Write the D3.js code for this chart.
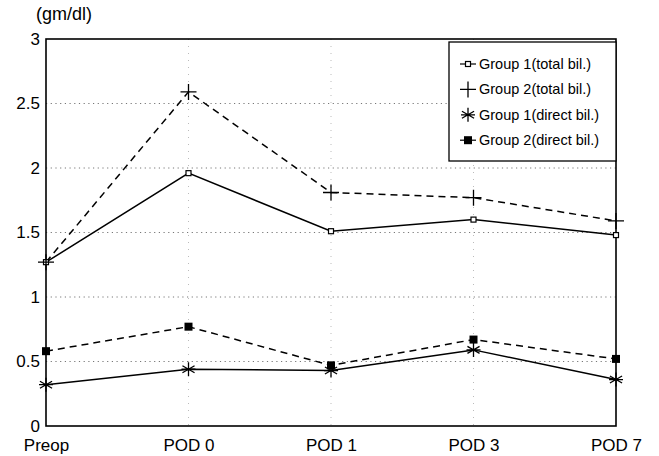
<!DOCTYPE html>
<html>
<head>
<meta charset="utf-8">
<script src="https://cdn.jsdelivr.net/npm/d3@7"></script>
<style>
  html, body { margin: 0; padding: 0; background: #fff; }
  svg { display: block; font-family: "Liberation Sans", Arial, sans-serif; }
</style>
</head>
<body>
<svg id="chart" width="659" height="456"></svg>
<script>
const categories = ["Preop", "POD 0", "POD 1", "POD 3", "POD 7"];
const g1Total  = [1.27, 1.96, 1.51, 1.60, 1.48];
const g2Total  = [1.27, 2.59, 1.81, 1.77, 1.59];
const g1Direct = [0.32, 0.44, 0.43, 0.59, 0.36];
const g2Direct = [0.58, 0.77, 0.47, 0.67, 0.52];
const yTicks = [0, 0.5, 1, 1.5, 2, 2.5, 3];
const yTickLabels = ["0", "0.5", "1", "1.5", "2", "2.5", "3"];
const unitLabel = "(gm/dl)";
const seriesNames = ["Group 1(total bil.)", "Group 2(total bil.)", "Group 1(direct bil.)", "Group 2(direct bil.)"];

const series = [
  { name: seriesNames[0], values: g1Total,  dash: null,  marker: "openSquare" },
  { name: seriesNames[1], values: g2Total,  dash: "7,5", marker: "plus" },
  { name: seriesNames[2], values: g1Direct, dash: null,  marker: "asterisk" },
  { name: seriesNames[3], values: g2Direct, dash: "7,5", marker: "filledSquare" }
];

const svg = d3.select("#chart");
const m = { left: 46, right: 616, top: 39, bottom: 426 };

const x = d3.scalePoint().domain(categories).range([m.left, m.right]);
const y = d3.scaleLinear().domain([0, 3]).range([m.bottom, m.top]);

// gridlines
svg.append("g").selectAll("line").data(yTicks.filter(d => d > 0 && d < 3)).join("line")
  .attr("x1", m.left).attr("x2", m.right)
  .attr("y1", d => y(d)).attr("y2", d => y(d))
  .attr("stroke", "#777").attr("stroke-width", 1).attr("stroke-dasharray", "1.2,3.5");
svg.append("g").selectAll("line").data(categories.slice(1, -1)).join("line")
  .attr("x1", d => x(d)).attr("x2", d => x(d))
  .attr("y1", m.top).attr("y2", m.bottom)
  .attr("stroke", "#bbb").attr("stroke-width", 1).attr("stroke-dasharray", "1,6");

// frame
svg.append("rect").attr("x", m.left).attr("y", m.top)
  .attr("width", m.right - m.left).attr("height", m.bottom - m.top)
  .attr("fill", "none").attr("stroke", "#000").attr("stroke-width", 1.6);

// y axis
const yAxis = d3.axisLeft(y).tickValues(yTicks).tickSize(0).tickPadding(6)
  .tickFormat((d, i) => yTickLabels[i]);
const gy = svg.append("g").attr("transform", `translate(${m.left},0)`).call(yAxis);
gy.select(".domain").remove();
gy.selectAll("text").attr("font-size", 17).attr("fill", "#000")
  .attr("font-family", "Liberation Sans, Arial, sans-serif");

// x axis
const xAxis = d3.axisBottom(x).tickSize(0).tickPadding(13);
const gx = svg.append("g").attr("transform", `translate(0,${m.bottom})`).call(xAxis);
gx.select(".domain").remove();
gx.selectAll("text").attr("font-size", 17).attr("fill", "#000")
  .attr("font-family", "Liberation Sans, Arial, sans-serif");

svg.append("text").attr("x", 36).attr("y", 20).attr("font-size", 18).text(unitLabel);

// lines
const line = d3.line().x((d, i) => x(categories[i])).y(d => y(d));
series.forEach(s => {
  svg.append("path").datum(s.values).attr("d", line)
    .attr("fill", "none").attr("stroke", "#000").attr("stroke-width", 1.5)
    .attr("stroke-dasharray", s.dash);
});

function drawMarker(g, type, cx, cy, scale) {
  const k = scale || 1;
  if (type === "openSquare") {
    g.append("rect").attr("x", cx - 2.5 * k).attr("y", cy - 2.5 * k).attr("width", 5 * k).attr("height", 5 * k)
      .attr("fill", "#fff").attr("stroke", "#000").attr("stroke-width", 1.2);
  } else if (type === "plus") {
    const r = 8 * k;
    g.append("path").attr("d", `M${cx - r},${cy}H${cx + r}M${cx},${cy - r}V${cy + r}`)
      .attr("stroke", "#000").attr("stroke-width", 1.3);
  } else if (type === "asterisk") {
    const r = 7 * k;
    let d = `M${cx},${cy - r}V${cy + r}`;
    [30, 150].forEach(a => {
      const rad = a * Math.PI / 180;
      const dx = r * Math.cos(rad), dy = r * Math.sin(rad);
      d += `M${cx - dx},${cy - dy}L${cx + dx},${cy + dy}`;
    });
    d += `M${cx - r},${cy}H${cx + r}`;
    g.append("path").attr("d", d).attr("stroke", "#000").attr("stroke-width", 1.3);
  } else if (type === "filledSquare") {
    g.append("rect").attr("x", cx - 4 * k).attr("y", cy - 4 * k).attr("width", 8 * k).attr("height", 8 * k)
      .attr("fill", "#000");
  }
}

const mg = svg.append("g");
series.forEach(s => {
  s.values.forEach((v, i) => drawMarker(mg, s.marker, x(categories[i]), y(v)));
});

// legend
const lg = svg.append("g");
lg.append("rect").attr("x", 449).attr("y", 42).attr("width", 167).attr("height", 119)
  .attr("fill", "#fff").attr("stroke", "#000").attr("stroke-width", 1.3);
series.forEach((s, i) => {
  const ly = 64 + i * 25.4;
  if (s.marker === "openSquare" || s.marker === "filledSquare") {
    lg.append("line").attr("x1", 460).attr("x2", 476).attr("y1", ly).attr("y2", ly)
      .attr("stroke", "#000").attr("stroke-width", 1.2);
  }
  drawMarker(lg, s.marker, 468, ly, 1);
  lg.append("text").attr("x", 479).attr("y", ly + 5).attr("font-size", 14.5)
    .attr("fill", "#000").text(s.name);
});
</script>
</body>
</html>
